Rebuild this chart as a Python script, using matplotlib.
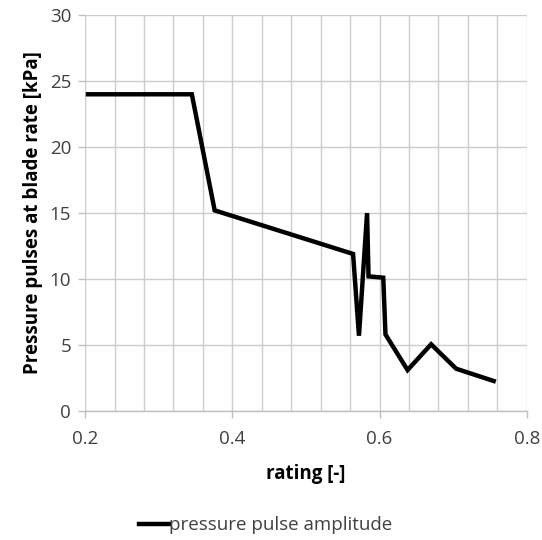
import matplotlib
matplotlib.use("Agg")
import matplotlib.pyplot as plt
from matplotlib.ticker import MultipleLocator

rating = [0.204, 0.345, 0.376, 0.564, 0.572, 0.583, 0.585, 0.605, 0.608,
          0.638, 0.670, 0.704, 0.755]
amplitude = [24.0, 24.0, 15.2, 11.9, 5.7, 15.0, 10.2, 10.1, 5.8,
             3.1, 5.05, 3.2, 2.27]
x_ticks = [0.2, 0.4, 0.6, 0.8]
y_ticks = [0, 5, 10, 15, 20, 25, 30]

plt.rcParams['font.family'] = ['Open Sans', 'DejaVu Sans']

fig = plt.figure(figsize=(5.42, 5.40), dpi=100)
ax = fig.add_axes([0.157, 0.239, 0.815, 0.733])

ax.plot(rating, amplitude, color='black', lw=3.2, solid_joinstyle='miter',
        label='pressure pulse amplitude', zorder=3)

ax.set_xlim(0.2, 0.8)
ax.set_ylim(0, 30)
ax.set_xticks(x_ticks)
ax.set_yticks(y_ticks)
ax.xaxis.set_minor_locator(MultipleLocator(0.04))
ax.grid(True, which='major', color='#cccccc', lw=1.0)
ax.grid(True, which='minor', axis='x', color='#cccccc', lw=1.0)

for side in ['top', 'right', 'left']:
    ax.spines[side].set_visible(False)
ax.spines['bottom'].set_color('#bfbfbf')
ax.spines['bottom'].set_linewidth(1.0)

ax.tick_params(axis='both', which='major', labelsize=13.5, colors='#bfbfbf',
               labelcolor='#404040', length=5, width=1.0)
ax.tick_params(axis='x', which='minor', length=0)
ax.tick_params(axis='x', which='major', pad=9)
ax.tick_params(axis='y', which='major', pad=5)
ax.set_xticklabels([f"{v:.1f}" for v in x_ticks])

ax.set_xlabel('rating [-]', fontsize=13.5, fontweight='bold', color='#000000', labelpad=11)
ax.set_ylabel('Pressure pulses at blade rate [kPa]', fontsize=13.5, fontweight='bold',
              color='#000000', labelpad=5)

leg = fig.legend(loc='center', bbox_to_anchor=(0.49, 0.027), frameon=False,
                 fontsize=13.5, handlelength=1.6, handletextpad=0.0)
for t in leg.get_texts():
    t.set_color('#404040')

fig.savefig('out.png', dpi=100)
